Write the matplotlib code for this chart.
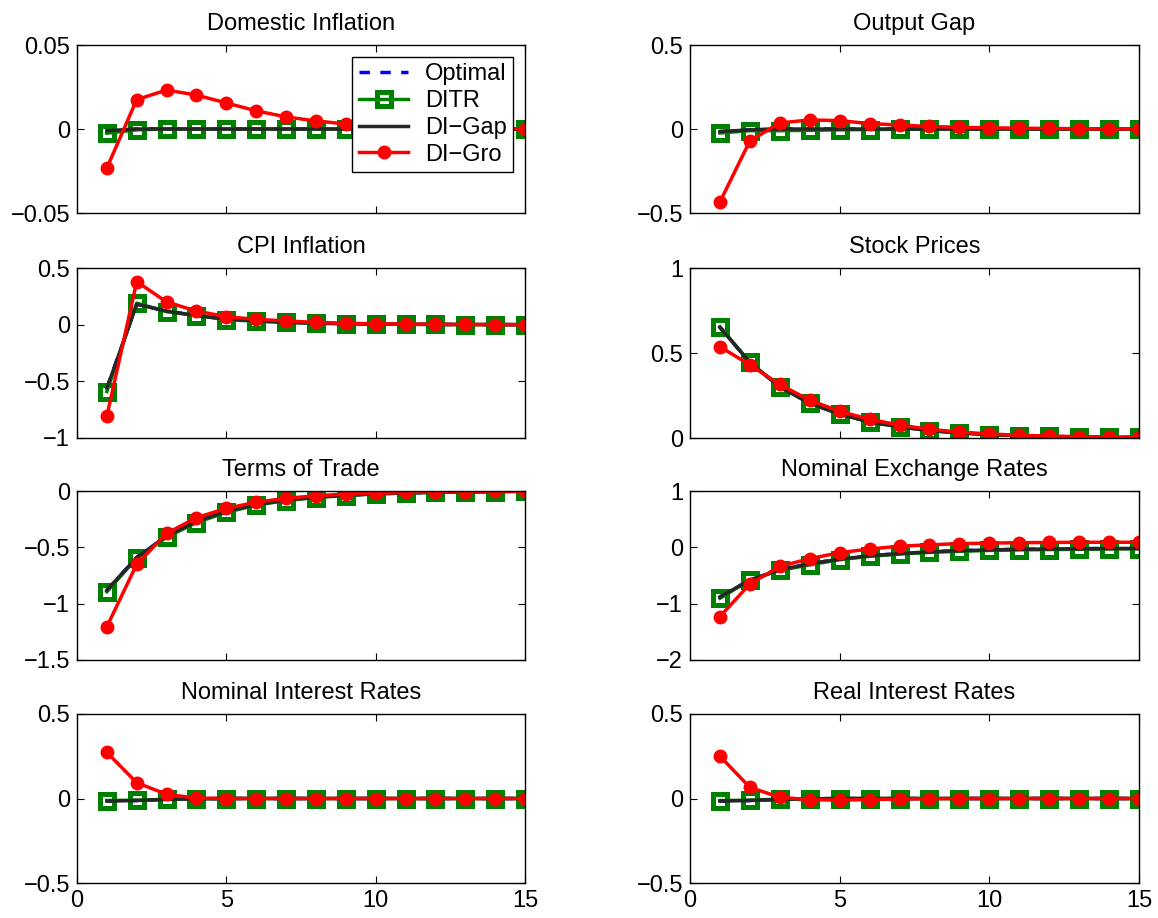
import matplotlib
matplotlib.use("Agg")
import matplotlib.pyplot as plt
import numpy as np

plt.rcParams['font.family'] = ['Liberation Sans', 'DejaVu Sans']
plt.rcParams['font.size'] = 17

periods = list(range(1, 16))
series_names = ["Optimal", "DITR", "DI\u2212Gap", "DI\u2212Gro"]

titles = ["Domestic Inflation", "Output Gap", "CPI Inflation", "Stock Prices",
          "Terms of Trade", "Nominal Exchange Rates", "Nominal Interest Rates",
          "Real Interest Rates"]

# --- data ---
dom_opt = [-0.001, 0, 0, 0, 0, 0, 0, 0, 0, 0, 0, 0, 0, 0, 0]
dom_ditr = [-0.0025, -0.0005, 0, 0, 0, 0, 0, 0, 0, 0, 0, 0, 0, 0, 0]
dom_gap = [-0.001, 0, 0, 0, 0, 0, 0, 0, 0, 0, 0, 0, 0, 0, 0]
dom_gro = [-0.0232, 0.0175, 0.0232, 0.0202, 0.0155, 0.0108, 0.0072, 0.0048,
           0.003, 0.002, 0.0013, 0.0008, 0.0005, 0.0003, 0.0]

gap_opt = [-0.015, -0.005, 0, 0, 0, 0, 0, 0, 0, 0, 0, 0, 0, 0, 0]
gap_ditr = [-0.024, -0.01, -0.01, -0.008, -0.005, -0.003, -0.002, -0.001, 0, 0, 0, 0, 0, 0, 0]
gap_gap = [-0.015, -0.005, 0, 0, 0, 0, 0, 0, 0, 0, 0, 0, 0, 0, 0]
gap_gro = [-0.434, -0.071, 0.036, 0.054, 0.05, 0.032, 0.024, 0.015, 0.01,
           0.007, 0.005, 0.003, 0.002, 0.001, 0.001]

cpi_opt = [-0.56, 0.18, 0.12, 0.08, 0.05, 0.034, 0.022, 0.014, 0.009, 0.006,
           0.004, 0.002, 0.001, 0.001, 0.0]
cpi_ditr = [-0.59, 0.19, 0.115, 0.08, 0.045, 0.03, 0.02, 0.012, 0.008, 0.005,
            0.003, 0.002, 0.001, 0.0005, 0.0]
cpi_gap = [-0.56, 0.18, 0.12, 0.08, 0.05, 0.034, 0.022, 0.014, 0.009, 0.006,
           0.004, 0.002, 0.001, 0.001, 0.0]
cpi_gro = [-0.806, 0.38, 0.2, 0.12, 0.07, 0.047, 0.033, 0.02, 0.012, 0.008,
           0.005, 0.003, 0.002, 0.001, 0.0]

stk_opt = [0.65, 0.445, 0.30, 0.205, 0.14, 0.095, 0.065, 0.044, 0.03, 0.02,
           0.014, 0.009, 0.006, 0.004, 0.003]
stk_ditr = [0.655, 0.445, 0.30, 0.205, 0.14, 0.095, 0.065, 0.044, 0.03, 0.02,
            0.014, 0.009, 0.006, 0.004, 0.003]
stk_gap = [0.65, 0.445, 0.30, 0.205, 0.14, 0.095, 0.065, 0.044, 0.03, 0.02,
           0.014, 0.009, 0.006, 0.004, 0.003]
stk_gro = [0.537, 0.43, 0.315, 0.222, 0.157, 0.11, 0.076, 0.051, 0.035,
           0.024, 0.016, 0.011, 0.008, 0.005, 0.004]

tot_opt = [-0.88, -0.59, -0.40, -0.27, -0.18, -0.12, -0.08, -0.055, -0.037,
           -0.025, -0.017, -0.011, -0.008, -0.005, -0.003]
tot_ditr = [-0.894, -0.595, -0.41, -0.28, -0.19, -0.125, -0.085, -0.058,
            -0.04, -0.027, -0.018, -0.012, -0.008, -0.005, -0.003]
tot_gap = [-0.88, -0.59, -0.40, -0.27, -0.18, -0.12, -0.08, -0.055, -0.037,
           -0.025, -0.017, -0.011, -0.008, -0.005, -0.003]
tot_gro = [-1.204, -0.65, -0.376, -0.237, -0.154, -0.1, -0.065, -0.042,
           -0.028, -0.02, -0.012, -0.008, -0.005, -0.003, -0.002]

ner_opt = [-0.88, -0.58, -0.40, -0.29, -0.21, -0.15, -0.11, -0.08, -0.06,
           -0.045, -0.035, -0.03, -0.025, -0.02, -0.02]
ner_ditr = [-0.905, -0.58, -0.41, -0.31, -0.22, -0.16, -0.12, -0.09, -0.07,
            -0.055, -0.045, -0.04, -0.035, -0.03, -0.025]
ner_gap = [-0.88, -0.58, -0.40, -0.29, -0.21, -0.15, -0.11, -0.08, -0.06,
           -0.045, -0.035, -0.03, -0.025, -0.02, -0.02]
ner_gro = [-1.23, -0.65, -0.34, -0.2, -0.095, -0.03, 0.02, 0.045, 0.065,
           0.075, 0.082, 0.087, 0.09, 0.09, 0.09]

nir_opt = [-0.015, -0.012, -0.005, -0.002, 0, 0, 0, 0, 0, 0, 0, 0, 0, 0, 0]
nir_ditr = [-0.012, -0.01, -0.005, -0.002, 0, 0, 0, 0, 0, 0, 0, 0, 0, 0, 0]
nir_gap = [-0.015, -0.012, -0.005, -0.002, 0, 0, 0, 0, 0, 0, 0, 0, 0, 0, 0]
nir_gro = [0.273, 0.093, 0.025, 0.002, 0, 0, 0, 0, 0, 0, 0, 0, 0, 0, 0]

rir_opt = [-0.015, -0.012, -0.005, -0.002, 0, 0, 0, 0, 0, 0, 0, 0, 0, 0, 0]
rir_ditr = [-0.012, -0.01, -0.004, -0.002, 0, 0, 0, 0, 0, 0, 0, 0, 0, 0, 0]
rir_gap = [-0.015, -0.012, -0.005, -0.002, 0, 0, 0, 0, 0, 0, 0, 0, 0, 0, 0]
rir_gro = [0.25, 0.066, 0.007, -0.007, -0.01, -0.006, -0.003, -0.001, 0, 0,
           0, 0, 0, 0, 0]

panel_data = [
    (dom_opt, dom_ditr, dom_gap, dom_gro),
    (gap_opt, gap_ditr, gap_gap, gap_gro),
    (cpi_opt, cpi_ditr, cpi_gap, cpi_gro),
    (stk_opt, stk_ditr, stk_gap, stk_gro),
    (tot_opt, tot_ditr, tot_gap, tot_gro),
    (ner_opt, ner_ditr, ner_gap, ner_gro),
    (nir_opt, nir_ditr, nir_gap, nir_gro),
    (rir_opt, rir_ditr, rir_gap, rir_gro),
]

ylims = [(-0.05, 0.05), (-0.5, 0.5), (-1, 0.5), (0, 1), (-1.5, 0), (-2, 1),
         (-0.5, 0.5), (-0.5, 0.5)]
yticks = [[-0.05, 0, 0.05], [-0.5, 0, 0.5], [-1, -0.5, 0, 0.5], [0, 0.5, 1],
          [-1.5, -1, -0.5, 0], [-2, -1, 0, 1], [-0.5, 0, 0.5], [-0.5, 0, 0.5]]
yticklabels = [["\u22120.05", "0", "0.05"], ["\u22120.5", "0", "0.5"],
               ["\u22121", "\u22120.5", "0", "0.5"], ["0", "0.5", "1"],
               ["\u22121.5", "\u22121", "\u22120.5", "0"],
               ["\u22122", "\u22121", "0", "1"], ["\u22120.5", "0", "0.5"],
               ["\u22120.5", "0", "0.5"]]
xticks = [0, 5, 10, 15]

W, H = 1158, 918
fig = plt.figure(figsize=(W / 100, H / 100), dpi=100)

col_left = [77, 690]
col_width = [448, 449]
row_top = [45, 268, 491, 714]
row_height = [168, 170, 169, 169]

for i in range(8):
    r, c = divmod(i, 2)
    left = col_left[c] / W
    bottom = 1 - (row_top[r] + row_height[r]) / H
    ax = fig.add_axes([left, bottom, col_width[c] / W, row_height[r] / H])
    opt, ditr, gap, gro = panel_data[i]
    ax.plot(periods, opt, color='#0000ff', linestyle=(0, (3, 3)), lw=2.5,
            label=series_names[0])
    ax.plot(periods, ditr, color='#008000', lw=2.5, marker='s', ms=10,
            mew=3.6, mfc='none', mec='#008000', label=series_names[1])
    ax.plot(periods, gap, color='#262626', lw=2.5, label=series_names[2])
    ax.plot(periods, gro, color='#ff0000', lw=2.5, marker='o', ms=9,
            mfc='#ff0000', mec='#ff0000', label=series_names[3])
    ax.set_xlim(0, 15)
    ax.set_ylim(*ylims[i])
    ax.set_xticks(xticks)
    ax.set_yticks(yticks[i])
    ax.set_yticklabels(yticklabels[i])
    if r < 3:
        ax.set_xticklabels([])
    ax.tick_params(direction='in', top=True, right=True, length=5, width=0.8,
                   labelsize=17, pad=5)
    for sp in ax.spines.values():
        sp.set_linewidth(1.0)
    ax.set_title(titles[i], fontsize=17, pad=11)
    if i == 0:
        leg = ax.legend(loc='upper right', fontsize=17, frameon=True,
                        fancybox=False, edgecolor='black', handlelength=2.1,
                        labelspacing=0.2, borderpad=0.28, handletextpad=0.7,
                        borderaxespad=0.5, framealpha=1.0)
        leg.get_frame().set_linewidth(1.0)

fig.savefig("out.png", dpi=100)
